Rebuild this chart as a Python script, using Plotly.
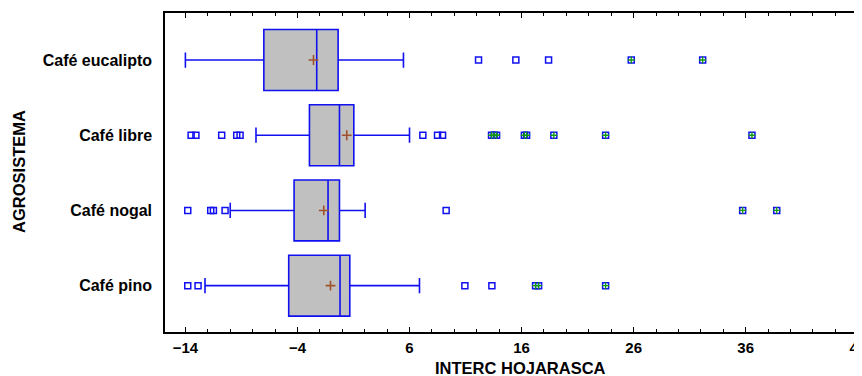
import plotly.graph_objects as go

# ---- data ----
categories = ["Café eucalipto", "Café libre", "Café nogal", "Café pino"]
q1 = [-7.0, -2.93, -4.30, -4.78]
median = [-2.28, -0.25, -1.27, -0.20]
q3 = [-0.37, 1.03, -0.25, 0.67]
lower_whisker = [-14.0, -7.70, -10.0, -12.25]
upper_whisker = [5.46, 6.0, 2.04, 6.89]
means = [-2.57, 0.40, -1.65, -1.05]

outliers_eucalipto = [12.16, 15.49, 18.41]
far_eucalipto = [25.79, 32.16]
outliers_libre = [-13.49, -13.06, -10.76, -9.42, -9.12, 7.19, 8.50, 8.95]
far_libre = [13.32, 13.55, 13.77, 16.25, 16.45, 18.88, 23.50, 36.56]
outliers_nogal = [-13.79, -11.74, -11.50, -10.46, 9.27]
far_nogal = [35.73, 38.77]
outliers_pino = [-13.79, -12.87, 10.94, 13.35]
far_pino = [17.25, 17.52, 23.50]

x_title = "INTERC HOJARASCA"
y_title = "AGROSISTEMA"

near_sets = [outliers_eucalipto, outliers_libre, outliers_nogal, outliers_pino]
far_sets = [far_eucalipto, far_libre, far_nogal, far_pino]

FONT = "Liberation Sans, Arial, sans-serif"
BLUE = "#1010F0"

fig = go.Figure()

fig.add_trace(go.Box(
    y=categories, q1=q1, median=median, q3=q3,
    lowerfence=lower_whisker, upperfence=upper_whisker,
    orientation="h", boxpoints=False, width=0.81, whiskerwidth=0.25,
    fillcolor="#C0C0C0", line=dict(color=BLUE, width=1.6),
    showlegend=False, hoverinfo="skip",
))

near_x, near_y, far_x, far_y = [], [], [], []
for cat, ns, fs in zip(categories, near_sets, far_sets):
    near_x += ns
    near_y += [cat] * len(ns)
    far_x += fs
    far_y += [cat] * len(fs)

fig.add_trace(go.Scatter(
    x=near_x + far_x, y=near_y + far_y, mode="markers",
    marker=dict(symbol="square-open", size=6, color=BLUE, line=dict(width=1.5, color=BLUE)),
    showlegend=False,
))
fig.add_trace(go.Scatter(
    x=far_x, y=far_y, mode="markers",
    marker=dict(symbol="cross-thin", size=5, color="#119911", line=dict(width=1.3, color="#119911")),
    showlegend=False,
))
fig.add_trace(go.Scatter(
    x=means, y=categories, mode="markers",
    marker=dict(symbol="cross-thin", size=7, color="#A0522D", line=dict(width=1.6, color="#A0522D")),
    showlegend=False,
))

# The page body has an 8px default margin, so the figure is sized to fill the rest.
fig.update_layout(
    width=854, height=368,
    margin=dict(l=157, r=0, t=5, b=44, autoexpand=False),
    paper_bgcolor="white", plot_bgcolor="white",
    font=dict(family=FONT, color="black"),
    xaxis=dict(
        range=[-15.82, 46.38], tick0=-14, dtick=10,
        ticks="inside", ticklen=5, tickwidth=1.3, tickcolor="black",
        minor=dict(dtick=2, tick0=-14, ticks="inside", ticklen=3, tickwidth=1, tickcolor="black", showgrid=False),
        showline=True, linecolor="black", linewidth=1.5, mirror="ticks",
        showgrid=False, zeroline=False, automargin=False,
        tickfont=dict(family=FONT, size=15, weight="bold", color="black"),
        ticklabelstandoff=1, ticklabeloverflow="allow",
    ),
    yaxis=dict(
        type="category", categoryorder="array", categoryarray=categories[::-1],
        range=[-0.616, 3.625],
        showline=True, linecolor="black", linewidth=1.5,
        ticks="", showgrid=False, zeroline=False, automargin=False,
        tickfont=dict(family=FONT, size=16, weight="bold", color="black"),
        ticklabelstandoff=8,
    ),
    annotations=[
        dict(text=x_title, xref="paper", yref="paper", x=0.5105, y=-0.113,
             xanchor="center", yanchor="middle", showarrow=False,
             font=dict(family=FONT, size=16.5, weight="bold", color="black")),
        dict(text=y_title, xref="paper", yref="paper", x=-0.2095, y=0.505,
             xanchor="center", yanchor="middle", showarrow=False, textangle=-90,
             font=dict(family=FONT, size=16.5, weight="bold", color="black")),
    ],
)

fig.write_html("out.html")
